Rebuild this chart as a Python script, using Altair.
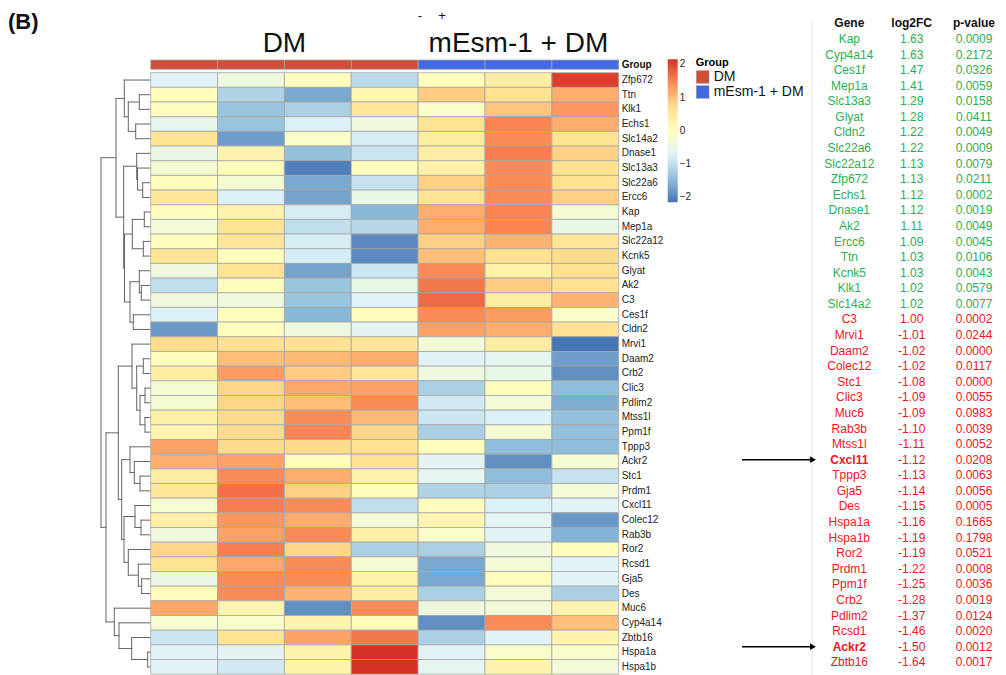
import altair as alt
import pandas as pd

FONT = "Liberation Sans"

# ---------------- heatmap data ----------------
genes = ["Zfp672", "Ttn", "Klk1", "Echs1", "Slc14a2", "Dnase1", "Slc13a3", "Slc22a6",
         "Ercc6", "Kap", "Mep1a", "Slc22a12", "Kcnk5", "Glyat", "Ak2", "C3", "Ces1f",
         "Cldn2", "Mrvi1", "Daam2", "Crb2", "Clic3", "Pdlim2", "Mtss1l", "Ppm1f", "Tppp3",
         "Ackr2", "Stc1", "Prdm1", "Cxcl11", "Colec12", "Rab3b", "Ror2", "Rcsd1", "Gja5",
         "Des", "Muc6", "Cyp4a14", "Zbtb16", "Hspa1a", "Hspa1b"]

samples = ["DM_1", "DM_2", "DM_3", "DM_4", "mE_1", "mE_2", "mE_3"]
sample_group = ["DM", "DM", "DM", "DM", "mEsm-1 + DM", "mEsm-1 + DM", "mEsm-1 + DM"]

dm_1 = [-0.7, 0.05, 0.05, -0.55, 0.65, -0.45, -0.25, 0.05, 0.6, 0.05, -0.3, 0.05, 0.6, -0.4,
        -1.0, -0.35, -0.75, -1.8, 0.75, 0.05, 0.45, -0.25, -0.25, 0.35, 0.25, 1.25, 1.15, 0.45,
        0.55, -0.2, 0.35, -0.4, 0.8, 0.65, -0.45, 0.05, 1.2, -0.2, -0.9, -0.7, -0.7]
dm_2 = [-0.4, -1.15, -1.35, -1.35, -1.75, 0.25, 0.1, -0.25, -0.75, 0.3, 0.65, 0.6, 0.05, 0.65,
        0.05, -0.35, 0.05, 0.05, 0.7, 1.0, 1.3, 0.8, 0.8, 0.75, 0.75, 0.75, 1.25, 1.45, 1.65,
        1.55, 1.35, 1.25, 1.55, 1.2, 1.45, 1.45, 0.25, -0.15, 0.65, -0.65, -0.85]
dm_3 = [0.05, -1.65, -1.2, -0.75, -0.15, -1.4, -2.05, -1.65, -1.7, -0.8, -1.0, -0.8, -0.8, -1.7,
        -1.35, -1.35, -1.5, -0.4, 0.7, 1.05, 0.9, 1.2, 1.0, 1.45, 1.5, 0.75, 0.05, 1.15, 0.85,
        1.45, 1.15, 1.45, 0.8, 1.45, 1.45, 1.1, -1.9, 0.25, 1.25, 0.3, 0.3]
dm_4 = [-1.05, 0.2, 0.55, -0.4, -0.8, -0.9, 0.05, -0.95, -0.5, -1.5, -1.1, -1.95, -1.95, -0.9,
        -0.5, -0.7, 0.05, -0.65, 0.6, 1.15, 0.55, 1.25, 1.45, 1.05, 0.8, 0.7, 0.7, 0.3, 0.05,
        -1.0, -0.3, 0.35, -1.2, -0.25, 0.3, 0.45, 1.45, 0.05, 1.6, 2.15, 2.15]
me_1 = [0.05, 0.9, -0.1, 0.65, 0.45, 0.4, 0.35, 0.85, 0.65, 1.15, 1.15, 0.85, 1.0, 1.45, 1.6,
        1.7, 1.45, 1.25, -0.3, -0.7, -0.4, -1.2, -0.85, -0.9, -1.2, 0.05, -0.65, -0.6, -1.15,
        0.05, 0.25, -0.15, -1.2, -1.65, -1.65, -1.2, -0.4, -1.9, -1.2, -0.7, -0.6]
me_2 = [0.4, 0.7, 0.95, 1.5, 1.45, 1.55, 1.45, 1.45, 1.45, 1.5, 1.5, 1.1, 0.7, 0.3, 0.9, 0.45,
        1.3, 1.15, 0.45, -0.6, -0.5, 0.05, -0.3, -0.75, -0.25, -1.45, -1.9, -1.45, -1.2, -0.75,
        -0.65, -0.7, -0.4, -0.3, 0.05, -0.3, -0.3, 1.45, -0.7, -0.15, 0.25]
me_3 = [2.05, 1.15, 1.35, 1.15, 0.65, 0.85, 0.7, 0.7, 0.85, -0.25, -0.5, 0.6, 0.75, 0.7, 0.7,
        1.1, -0.15, 0.7, -2.15, -1.75, -1.9, -1.45, -1.6, -1.4, -1.4, -1.45, -0.25, -0.95, -0.3,
        -0.7, -1.8, -1.55, 0.05, -0.7, -0.7, -1.2, 0.25, 1.0, 0.25, -0.15, -0.3]
columns = [dm_1, dm_2, dm_3, dm_4, me_1, me_2, me_3]

group_names = ["DM", "mEsm-1 + DM"]
group_colors = ["#CD4F39", "#4169E1"]

heat_colors = ["#4575B4", "#91BFDB", "#E0F3F8", "#FFFFBF", "#FEE090", "#FC8D59", "#D73027"]
heat_min, heat_max = -2.15, 2.15
legend_values = [-2, -1, 0, 1, 2]

# ---------------- row dendrogram (hclust-style merges) ----------------
dend_left = ["Ttn", "Echs1", "m0", "Zfp672", "Slc22a6", "Slc13a3", "Dnase1", "Kap", "Slc22a12",
             "m7", "Ak2", "Glyat", "Ces1f", "m11", "m9", "m6", "m3", "Daam2", "Clic3", "Mtss1l",
             "m18", "m17", "Mrvi1", "Stc1", "Ackr2", "Tppp3", "Colec12", "Cxcl11", "Gja5",
             "Rcsd1", "Ror2", "m27", "m25", "m22", "Hspa1a", "Zbtb16", "Cyp4a14", "Muc6",
             "m33", "m16"]
dend_right = ["Klk1", "Slc14a2", "m1", "m2", "Ercc6", "m4", "m5", "Mep1a", "Kcnk5", "m8",
              "C3", "m10", "Cldn2", "m12", "m13", "m14", "m15", "Crb2", "Pdlim2", "Ppm1f",
              "m19", "m20", "m21", "Prdm1", "m23", "m24", "Rab3b", "m26", "Des", "m28", "m29",
              "m30", "m31", "m32", "Hspa1b", "m34", "m35", "m36", "m37", "m38"]
dend_height = [11.7, 15.3, 22.7, 26.7, 8.3, 13.5, 14.3, 6.7, 7.7, 18.7, 9.7, 11.7, 17.7, 21.0,
               26.5, 27.3, 35.0, 7.7, 6.0, 6.0, 11.0, 14.3, 19.0, 11.0, 16.7, 21.0, 10.0, 16.0,
               9.3, 12.7, 22.7, 27.0, 29.3, 32.7, 3.3, 19.3, 32.0, 36.7, 45.0, 50.0]

# ---------------- table data ----------------
tab_gene = ["Kap", "Cyp4a14", "Ces1f", "Mep1a", "Slc13a3", "Glyat", "Cldn2", "Slc22a6",
            "Slc22a12", "Zfp672", "Echs1", "Dnase1", "Ak2", "Ercc6", "Ttn", "Kcnk5", "Klk1",
            "Slc14a2", "C3", "Mrvi1", "Daam2", "Colec12", "Stc1", "Clic3", "Muc6", "Rab3b",
            "Mtss1l", "Cxcl11", "Tppp3", "Gja5", "Des", "Hspa1a", "Hspa1b", "Ror2", "Prdm1",
            "Ppm1f", "Crb2", "Pdlim2", "Rcsd1", "Ackr2", "Zbtb16"]
tab_lfc = [1.63, 1.63, 1.47, 1.41, 1.29, 1.28, 1.22, 1.22, 1.13, 1.13, 1.12, 1.12, 1.11, 1.09,
           1.03, 1.03, 1.02, 1.02, 1.00, -1.01, -1.02, -1.02, -1.08, -1.09, -1.09, -1.10, -1.11,
           -1.12, -1.13, -1.14, -1.15, -1.16, -1.19, -1.19, -1.22, -1.25, -1.28, -1.37, -1.46,
           -1.50, -1.64]
tab_p = [0.0009, 0.2172, 0.0326, 0.0059, 0.0158, 0.0411, 0.0049, 0.0009, 0.0079, 0.0211,
         0.0002, 0.0019, 0.0049, 0.0045, 0.0106, 0.0043, 0.0579, 0.0077, 0.0002, 0.0244,
         0.0000, 0.0117, 0.0000, 0.0055, 0.0983, 0.0039, 0.0052, 0.0208, 0.0063, 0.0056,
         0.0005, 0.1665, 0.1798, 0.0521, 0.0008, 0.0036, 0.0019, 0.0124, 0.0020, 0.0012, 0.0017]
tab_headers = ["Gene", "log2FC", "p-value"]
n_green = 18
green, red = "#2BAE55", "#F0141E"
bold_genes = ["Cxcl11", "Ackr2"]

# ---------------- build tables ----------------
n_rows, n_cols = len(genes), len(samples)
heat_rows = []
for j, col in enumerate(columns):
    for i, v in enumerate(col):
        heat_rows.append(dict(gene=genes[i], sample=samples[j], c0=j, c1=j + 1, r0=i, r1=i + 1, value=v))
heat_df = pd.DataFrame(heat_rows)

ann_df = pd.DataFrame(dict(c0=list(range(n_cols)), c1=[j + 1 for j in range(n_cols)],
                           group=sample_group, ann=["Group"] * n_cols))
label_df = pd.DataFrame(dict(gene=genes, rm=[i + 0.5 for i in range(n_rows)], xr=[n_cols] * n_rows))
title_df = pd.DataFrame(dict(
    group=group_names,
    xc=[sum(j + 0.5 for j in range(n_cols) if sample_group[j] == g) /
        sum(1 for j in range(n_cols) if sample_group[j] == g) for g in group_names]))

pos = {g: i + 0.5 for i, g in enumerate(genes)}
hgt = {g: 0.0 for g in genes}
segs = []
for k, (l, r, h) in enumerate(zip(dend_left, dend_right, dend_height)):
    yl, yr = pos[l], pos[r]
    segs.append(dict(h0=h, h1=h, y0=yl, y1=yr))
    segs.append(dict(h0=h, h1=hgt[l], y0=yl, y1=yl))
    segs.append(dict(h0=h, h1=hgt[r], y0=yr, y1=yr))
    pos[f"m{k}"] = (yl + yr) / 2
    hgt[f"m{k}"] = h
seg_df = pd.DataFrame(segs)

tab_rows = []
for i, (g, l, p) in enumerate(zip(tab_gene, tab_lfc, tab_p)):
    clr = green if i < n_green else red
    tab_rows.append(dict(i=i, col="Gene", txt=g, clr=clr, bold=g in bold_genes))
    tab_rows.append(dict(i=i, col="log2FC", txt=f"{l:.2f}", clr=clr, bold=False))
    tab_rows.append(dict(i=i, col="p-value", txt=f"{p:.4f}", clr=clr, bold=False))
tab_df = pd.DataFrame(tab_rows)
head_df = pd.DataFrame(dict(i=[-1] * 3, col=tab_headers, txt=tab_headers))
arrow_df = pd.DataFrame(dict(i=[tab_gene.index(g) for g in bold_genes]))

# ---------------- scales ----------------
def xs_heat():
    return alt.Scale(domain=[0, n_cols], range=[142.7, 610.7], nice=False, zero=False)

def ys_heat():
    return alt.Scale(domain=[0, n_rows], range=[64.7, 666.2], nice=False, zero=False)

def ys_ann():
    return alt.Scale(domain=["Group"], range=[52, 61.3], paddingInner=0, paddingOuter=0)

def xs_tab():
    return alt.Scale(domain=tab_headers, range=[841.3, 966], padding=0)

def ys_tab():
    return alt.Scale(domain=[0, n_rows - 1], range=[31, 654.3], nice=False, zero=False)

heat_domain = [heat_min + (heat_max - heat_min) * k / 6 for k in range(7)]

# ---------------- layers ----------------
dend = alt.Chart(seg_df).mark_rule(color="#666666", strokeWidth=1, strokeCap="square").encode(
    x=alt.X("h0:Q", scale=alt.Scale(domain=[0, 50], range=[143, 93], nice=False, zero=False), axis=None),
    x2="h1:Q",
    y=alt.Y("y0:Q", scale=ys_heat(), axis=None),
    y2="y1:Q",
)

heat = alt.Chart(heat_df).mark_rect(stroke="#A6A6A6", strokeWidth=0.8).encode(
    x=alt.X("c0:Q", scale=xs_heat(), axis=None),
    x2="c1:Q",
    y=alt.Y("r0:Q", scale=ys_heat(), axis=None),
    y2="r1:Q",
    color=alt.Color("value:Q",
                    scale=alt.Scale(domain=heat_domain, range=heat_colors, interpolate="rgb"),
                    legend=alt.Legend(title=None, orient="none", legendX=659.7, legendY=51.3,
                                      direction="vertical", gradientLength=143,
                                      gradientThickness=10, values=legend_values,
                                      labelFontSize=10, labelFont=FONT, labelColor="#222222",
                                      gradientStrokeWidth=0)),
)

ann = alt.Chart(ann_df).mark_rect(stroke="#A6A6A6", strokeWidth=0.8).encode(
    x=alt.X("c0:Q", scale=xs_heat(), axis=None),
    x2="c1:Q",
    y=alt.Y("ann:N", scale=ys_ann(), axis=None),
    color=alt.Color("group:N", scale=alt.Scale(domain=group_names, range=group_colors),
                    legend=alt.Legend(title="Group", orient="none", legendX=687.7, legendY=49,
                                      symbolType="square", symbolSize=160, labelFontSize=14,
                                      labelFont=FONT, titleFont=FONT, titleFontSize=11,
                                      titleFontWeight="bold", rowPadding=-5, titlePadding=2,
                                      symbolStrokeColor="#888888", symbolStrokeWidth=0.5,
                                      labelColor="#111111")),
)

row_labels = alt.Chart(label_df).mark_text(align="left", baseline="middle", fontSize=10,
                                           font=FONT, dx=3, color="#222222").encode(
    x=alt.X("xr:Q", scale=xs_heat(), axis=None),
    y=alt.Y("rm:Q", scale=ys_heat(), axis=None),
    text="gene:N",
)

ann_label = alt.Chart(pd.DataFrame(dict(ann=["Group"], xr=[n_cols]))).mark_text(
    align="left", baseline="middle", fontSize=10, font=FONT, dx=3, fontWeight="bold",
    color="#111111").encode(
    x=alt.X("xr:Q", scale=xs_heat(), axis=None),
    y=alt.Y("ann:N", scale=ys_ann(), axis=None),
    text="ann:N",
)

group_titles = alt.Chart(title_df).mark_text(fontSize=28, font=FONT, align="center",
                                             baseline="alphabetic", color="#111111").encode(
    x=alt.X("xc:Q", scale=xs_heat(), axis=None),
    y=alt.value(44),
    text="group:N",
)

tab_normal = alt.Chart(tab_df[~tab_df["bold"]]).mark_text(
    fontSize=12, font=FONT, align="center", baseline="middle").encode(
    x=alt.X("col:N", scale=xs_tab(), axis=None),
    y=alt.Y("i:Q", scale=ys_tab(), axis=None),
    text="txt:N",
    color=alt.Color("clr:N", scale=None),
)

tab_bold = alt.Chart(tab_df[tab_df["bold"]]).mark_text(
    fontSize=12, font=FONT, align="center", baseline="middle", fontWeight="bold").encode(
    x=alt.X("col:N", scale=xs_tab(), axis=None),
    y=alt.Y("i:Q", scale=ys_tab(), axis=None),
    text="txt:N",
    color=alt.Color("clr:N", scale=None),
)

tab_head = alt.Chart(head_df).mark_text(
    fontSize=12, font=FONT, align="center", baseline="middle", fontWeight="bold",
    color="#111111").encode(
    x=alt.X("col:N", scale=xs_tab(), axis=None),
    y=alt.Y("i:Q", scale=ys_tab(), axis=None),
    text="txt:N",
)

separator = alt.Chart(pd.DataFrame(dict(a=[0]))).mark_rule(color="#E3E3E3", strokeWidth=1).encode(
    x=alt.value(804), y=alt.value(12), y2=alt.value(667))

arrow_shaft = alt.Chart(arrow_df).mark_rule(color="black", strokeWidth=1.5).encode(
    x=alt.value(734), x2=alt.value(803),
    y=alt.Y("i:Q", scale=ys_tab(), axis=None),
)
arrow_head = alt.Chart(arrow_df).mark_point(shape="triangle-right", filled=True, size=45,
                                            color="black", opacity=1).encode(
    x=alt.value(805),
    y=alt.Y("i:Q", scale=ys_tab(), axis=None),
)

panel_df = pd.DataFrame(dict(t=["(B)"]))
panel_label = alt.Chart(panel_df).mark_text(fontSize=22, fontWeight="bold", font=FONT,
                                            align="left", baseline="alphabetic",
                                            color="#111111").encode(
    x=alt.value(0), y=alt.value(21), text="t:N")

sign_df = pd.DataFrame(dict(t=["-", "+"]))
signs_minus = alt.Chart(sign_df[sign_df["t"] == "-"]).mark_text(
    fontSize=13, font=FONT, baseline="top", color="#111111").encode(
    x=alt.value(412), y=alt.value(2), text="t:N")
signs_plus = alt.Chart(sign_df[sign_df["t"] == "+"]).mark_text(
    fontSize=13, font=FONT, baseline="top", color="#111111").encode(
    x=alt.value(434), y=alt.value(2), text="t:N")

chart = alt.layer(
    dend, heat, ann, row_labels, ann_label, group_titles,
    tab_normal, tab_bold, tab_head, separator, arrow_shaft, arrow_head,
    panel_label, signs_minus, signs_plus,
).resolve_scale(
    x="independent", y="independent", color="independent"
).resolve_legend(
    color="independent"
).properties(
    width=990, height=667, autosize=alt.AutoSizeParams(type="none"), padding=0
).configure_view(stroke=None)

chart.save("out.html", embed_options={"renderer": "svg", "actions": False})
